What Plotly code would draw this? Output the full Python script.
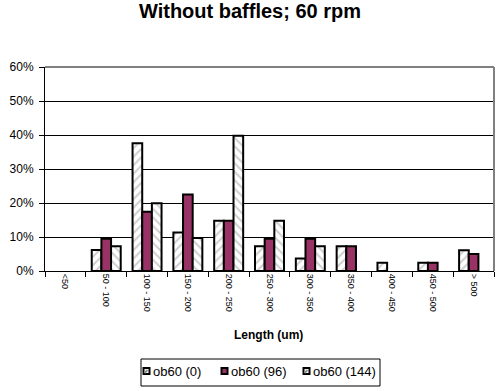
import plotly.graph_objects as go

categories = ["<50", "50 - 100", "100 - 150", "150 - 200", "200 - 250", "250 - 300",
              "300 - 350", "350 - 400", "400 - 450", "450 - 500", "> 500"]
# None = no bar drawn in the original
ob60_0 = [None, 6.2, 37.6, 11.3, 14.8, 7.3, 3.7, 7.3, 2.4, 2.4, 6.1]
ob60_96 = [None, 9.5, 17.4, 22.5, 14.8, 9.5, 9.5, 7.3, None, 2.4, 5.0]
ob60_144 = [None, 7.3, 19.9, 9.7, 39.8, 14.8, 7.3, None, None, None, None]
series_names = ["ob60 (0)", "ob60 (96)", "ob60 (144)"]
y_ticks = [0, 10, 20, 30, 40, 50, 60]
y_tick_labels = ["0%", "10%", "20%", "30%", "40%", "50%", "60%"]

FONT = "Liberation Sans, Arial, sans-serif"
MAROON = "#993366"

# plot area in pixels
L, R, T, B = 45, 6, 67, 120
W, H = 500, 391
PW, PH = W - L - R, H - T - B


def px(x):
    return (x - L) / PW


def py(y):
    return (H - B - y) / PH


fig = go.Figure()
fig.add_trace(go.Bar(
    name=series_names[0], x=categories, y=ob60_0,
    marker=dict(color="white", line=dict(color="black", width=2),
                pattern=dict(shape="/", fgcolor="#a0a0a0", bgcolor="white", size=6, solidity=0.35)),
))
fig.add_trace(go.Bar(
    name=series_names[1], x=categories, y=ob60_96,
    marker=dict(color=MAROON, line=dict(color="black", width=2)),
))
fig.add_trace(go.Bar(
    name=series_names[2], x=categories, y=ob60_144,
    marker=dict(color="white", line=dict(color="black", width=2),
                pattern=dict(shape="\\", fgcolor="#a0a0a0", bgcolor="white", size=6, solidity=0.35)),
))

fig.update_layout(
    width=W, height=H,
    margin=dict(l=L, r=R, t=T, b=B, autoexpand=False),
    paper_bgcolor="white", plot_bgcolor="white",
    barmode="group", bargap=0.29, bargroupgap=0,
    font=dict(family=FONT, color="black", size=11),
    title=dict(text="<b>Without baffles; 60 rpm</b>", x=0.5, xanchor="center",
               xref="container", y=1 - 11 / H, yanchor="middle",
               font=dict(size=20, family=FONT)),
    showlegend=False,
)
fig.update_xaxes(
    type="category", tickangle=90, tickfont=dict(size=9, family=FONT),
    showline=True, linecolor="black", linewidth=1, mirror=False,
    ticks="outside", tickson="boundaries", ticklen=5, tickcolor="black",
    showgrid=False, automargin=False,
)
fig.update_yaxes(
    range=[0, 60], tickvals=y_ticks, ticktext=y_tick_labels,
    tickfont=dict(size=12, family=FONT), ticklabelstandoff=3,
    showline=True, linecolor="black", linewidth=1,
    ticks="outside", ticklen=5, tickcolor="black",
    showgrid=True, gridcolor="black", gridwidth=1, zeroline=False,
    automargin=False,
)
# plot area border (gray, top and right)
fig.add_shape(type="line", xref="paper", yref="paper", x0=0, x1=1, y0=1, y1=1,
              line=dict(color="#808080", width=2), layer="above")
fig.add_shape(type="line", xref="paper", yref="paper", x0=1, x1=1, y0=0, y1=1,
              line=dict(color="#808080", width=2), layer="above")

# x-axis title
fig.add_annotation(text="<b>Length (um)</b>", xref="paper", yref="paper",
                   x=px(268.5), y=py(335), xanchor="center", yanchor="middle",
                   showarrow=False, font=dict(size=12, family=FONT))

# legend (custom, compact like the original)
fig.add_shape(type="rect", xref="paper", yref="paper",
              x0=px(141), x1=px(380), y0=py(386), y1=py(359),
              line=dict(color="black", width=1), fillcolor="white", layer="above")
legend_sq_x = [146.5, 224.5, 306.5]
legend_tx_x = [151, 229, 311]
legend_fill = ["white", MAROON, "white"]
for i, name in enumerate(series_names):
    cx = legend_sq_x[i]
    fig.add_shape(type="rect", xref="paper", yref="paper",
                  x0=px(cx - 3), x1=px(cx + 3), y0=py(374), y1=py(368),
                  line=dict(color="black", width=2), fillcolor=legend_fill[i], layer="above")
    if legend_fill[i] == "white":
        fig.add_shape(type="line", xref="paper", yref="paper",
                      x0=px(cx - 2), x1=px(cx + 1), y0=py(373), y1=py(370),
                      line=dict(color="#909090", width=2), layer="above")
    fig.add_annotation(text=name, xref="paper", yref="paper",
                       x=px(legend_tx_x[i]), y=py(371.5), xanchor="left", yanchor="middle",
                       showarrow=False, font=dict(size=13, family=FONT))

fig.write_html("out.html", config={"displayModeBar": False},
               post_script="document.body.style.margin='0';")
